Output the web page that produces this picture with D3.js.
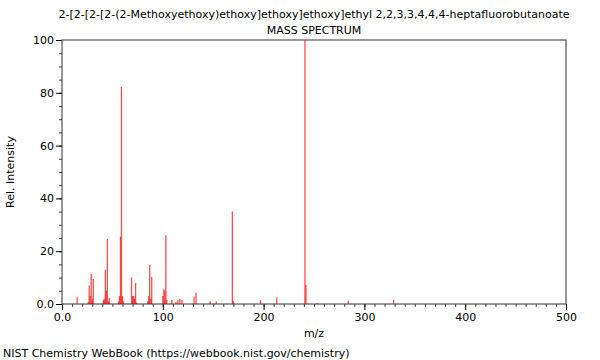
<!DOCTYPE html>
<html>
<head>
<meta charset="utf-8">
<script src="https://cdn.jsdelivr.net/npm/d3@7"></script>
<style>
  body { margin: 0; background: #fff; }
  text { font-family: "DejaVu Sans", sans-serif; font-size: 11px; fill: #000; }
</style>
</head>
<body>
<div id="chart"></div>
<script>
const title = '2-[2-[2-[2-(2-Methoxyethoxy)ethoxy]ethoxy]ethoxy]ethyl 2,2,3,3,4,4,4-heptafluorobutanoate';

// peaks
const mz = [15, 26, 27, 28, 29, 30, 31, 41, 42, 43, 44, 45, 46, 47, 56, 57, 58, 59, 60, 61,
  69, 70, 71, 72, 73, 74, 85, 86, 87, 88, 89, 100, 101, 102, 103, 104, 109, 113, 115, 117,
  119, 131, 133, 147, 153, 169, 170, 197, 213, 241, 242, 253, 284, 329];
const intensity = [2.6, 0.8, 7, 3, 11.5, 2, 9.5, 1.5, 2, 13, 5, 24.6, 1, 2.3, 1, 3, 25.5, 82.3, 3, 1,
  10, 3, 3, 2, 8, 0.5, 1, 3, 14.8, 2, 10.2, 3, 5.6, 5, 26, 1.5, 1.5, 0.8, 1.5, 2,
  1.5, 2.8, 4.3, 1, 1, 35, 1.2, 1.5, 2.4, 100, 7.2, 0.4, 1.2, 1.5];

const xTicks = [0, 100, 200, 300, 400, 500];
const yTicks = [0, 20, 40, 60, 80, 100];

const W = 600, H = 360;
const m = { left: 62, right: 34, top: 40, bottom: 56 };

const svg = d3.select('#chart').append('svg').attr('width', W).attr('height', H);

const x = d3.scaleLinear().domain([0, 500]).range([m.left, W - m.right]);
const y = d3.scaleLinear().domain([0, 100]).range([H - m.bottom, m.top]);

const fmt = d => d === 0 ? '0.0' : d;

// minor ticks
svg.append('g')
  .attr('transform', `translate(0,${H - m.bottom})`)
  .call(d3.axisBottom(x).tickValues(d3.range(0, 501, 10)).tickSize(3).tickFormat(''))
  .call(g => g.select('.domain').remove())
  .selectAll('line').attr('stroke', '#444');
svg.append('g')
  .attr('transform', `translate(${m.left},0)`)
  .call(d3.axisLeft(y).tickValues(d3.range(0, 101, 5)).tickSize(3).tickFormat(''))
  .call(g => g.select('.domain').remove())
  .selectAll('line').attr('stroke', '#444');

// major ticks
svg.append('g')
  .attr('transform', `translate(0,${H - m.bottom})`)
  .call(d3.axisBottom(x).tickValues(xTicks).tickSize(6).tickPadding(3).tickFormat(fmt))
  .call(g => g.select('.domain').remove())
  .call(g => g.selectAll('text').attr('font-size', 11).attr('font-family', 'DejaVu Sans'));
svg.append('g')
  .attr('transform', `translate(${m.left},0)`)
  .call(d3.axisLeft(y).tickValues(yTicks).tickSize(6).tickPadding(2).tickFormat(fmt))
  .call(g => g.select('.domain').remove())
  .call(g => g.selectAll('text').attr('font-size', 11).attr('font-family', 'DejaVu Sans'));

// peaks
svg.append('g').selectAll('line')
  .data(mz.map((d, i) => [d, intensity[i]]))
  .join('line')
  .attr('x1', d => x(d[0])).attr('x2', d => x(d[0]))
  .attr('y1', y(0)).attr('y2', d => y(d[1]))
  .attr('stroke', '#ff0000')
  .attr('stroke-opacity', 0.7)
  .attr('stroke-width', 1.3);

// frame
svg.append('rect')
  .attr('x', m.left).attr('y', m.top)
  .attr('width', W - m.left - m.right).attr('height', H - m.top - m.bottom)
  .attr('fill', 'none').attr('stroke', '#333').attr('stroke-width', 1);

const cx = (m.left + W - m.right) / 2;
svg.append('text').attr('x', cx).attr('y', 18).attr('text-anchor', 'middle').text(title);
svg.append('text').attr('x', cx).attr('y', 34).attr('text-anchor', 'middle').text('MASS SPECTRUM');
svg.append('text').attr('x', cx).attr('y', 337).attr('text-anchor', 'middle').text('m/z');
svg.append('text')
  .attr('transform', `translate(14,${(m.top + H - m.bottom) / 2}) rotate(-90)`)
  .attr('text-anchor', 'middle').text('Rel. Intensity');
svg.append('text').attr('x', 3).attr('y', 357).text('NIST Chemistry WebBook (https://webbook.nist.gov/chemistry)');
</script>
</body>
</html>
